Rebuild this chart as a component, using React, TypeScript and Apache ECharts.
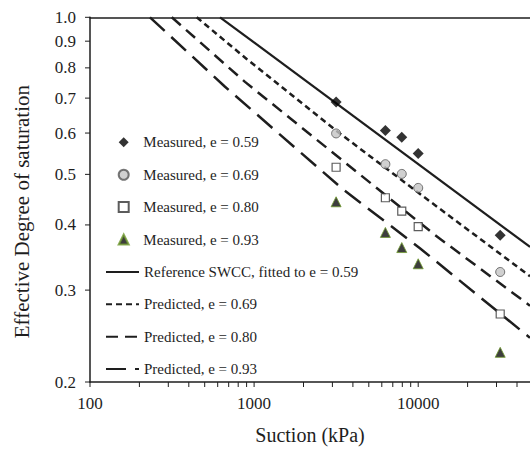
import React, { useEffect, useRef } from "react";
import * as echarts from "echarts";

// Measured data (suction in kPa, effective degree of saturation)
const suction = [3160, 6310, 7940, 10000, 31600];
const measured059 = [0.688, 0.607, 0.589, 0.548, 0.382];
const measured069 = [0.599, 0.523, 0.501, 0.471, 0.325];
const measured080 = [0.516, 0.451, 0.425, 0.397, 0.27];
const measured093 = [0.443, 0.387, 0.362, 0.337, 0.228];

// Curves
const refSuction = [620, 48000];
const refSe = [1.0, 0.363];
const pred069Suction = [447, 901, 3150, 10700, 48000];
const pred069Se = [1.0, 0.832, 0.607, 0.454, 0.319];
const pred080Suction = [315, 880, 12600, 48000];
const pred080Se = [1.0, 0.752, 0.383, 0.28];
const pred093Suction = [232, 665, 3480, 10240, 48000];
const pred093Se = [1.0, 0.736, 0.468, 0.361, 0.243];

// Axis ticks and labels
const xTickValues = [100, 200, 300, 400, 500, 600, 700, 800, 900, 1000, 2000, 3000, 4000, 5000, 6000, 7000, 8000, 9000, 10000, 20000, 30000, 40000];
const xLabelValues = [100, 1000, 10000];
const yTickValues = [0.2, 0.3, 0.4, 0.5, 0.6, 0.7, 0.8, 0.9, 1.0];

const measuredNames = ["Measured, e = 0.59", "Measured, e = 0.69", "Measured, e = 0.80", "Measured, e = 0.93"];
const curveNames = ["Reference SWCC, fitted to e = 0.59", "Predicted, e = 0.69", "Predicted, e = 0.80", "Predicted, e = 0.93"];

const FONT = "'Liberation Serif', 'Times New Roman', serif";
const INK = "#1e1e1e";

const zip = (xs: number[], ys: number[]) => xs.map((x, i) => [x, ys[i]]);

export default function App() {
  const ref = useRef<HTMLDivElement>(null);
  useEffect(() => {
    if (!ref.current) return;
    const chart = echarts.init(ref.current, null, { renderer: "svg" });
    const lineSeries = (name: string, xs: number[], ys: number[], type: any, width: number) => ({
      name,
      type: "line",
      data: zip(xs, ys),
      symbol: "none",
      z: 2,
      lineStyle: { color: INK, width, type },
      itemStyle: { color: INK },
    });
    const scatter = (name: string, ys: number[], symbol: string, size: number, style: any) => ({
      name,
      type: "scatter",
      data: zip(suction, ys),
      symbol,
      symbolSize: size,
      z: 5,
      itemStyle: style,
    });
    const legendText = { fontSize: 15, fontFamily: FONT, color: INK, lineHeight: 16 };
    chart.setOption({
      animation: false,
      grid: { left: 90, top: 17.3, right: 0, bottom: 60 },
      xAxis: [
        {
          type: "log",
          logBase: 10,
          min: 100,
          max: 48000,
          axisLine: { show: true, lineStyle: { color: INK, width: 1.5 } },
          axisTick: { show: false },
          axisLabel: { show: false },
          splitLine: { show: false },
          name: "Suction (kPa)",
          nameLocation: "middle",
          nameGap: 43,
          nameTextStyle: { fontSize: 20, fontFamily: FONT, color: INK },
        },
        {
          type: "log",
          logBase: 10,
          min: 100,
          max: 48000,
          position: "top",
          axisLine: { show: true, lineStyle: { color: INK, width: 1.5 } },
          axisTick: { show: false },
          axisLabel: { show: false },
          splitLine: { show: false },
        },
      ],
      yAxis: {
        type: "log",
        logBase: 10,
        min: 0.2,
        max: 1.0,
        axisLine: { show: true, lineStyle: { color: INK, width: 1.5 } },
        axisTick: { show: false },
        axisLabel: { show: false },
        splitLine: { show: false },
      },
      legend: [
        {
          orient: "vertical",
          left: 117.7,
          top: 134.3,
          padding: 0,
          itemWidth: 10,
          itemHeight: 10,
          itemGap: 16.4,
          textStyle: { ...legendText, padding: [0, 0, 0, 9.6] },
          data: measuredNames,
        },
        {
          orient: "vertical",
          left: 105,
          top: 263.9,
          padding: 0,
          itemWidth: 33,
          itemHeight: 10,
          itemGap: 16.4,
          itemStyle: { opacity: 0 },
          textStyle: legendText,
          data: curveNames,
        },
      ],
      series: [
        lineSeries(curveNames[0], refSuction, refSe, "solid", 2.2),
        lineSeries(curveNames[1], pred069Suction, pred069Se, [6, 4], 2.5),
        lineSeries(curveNames[2], pred080Suction, pred080Se, [12, 7], 2.5),
        lineSeries(curveNames[3], pred093Suction, pred093Se, [20, 9], 2.5),
        scatter(measuredNames[0], measured059, "diamond", 11, { color: "#000" }),
        scatter(measuredNames[1], measured069, "circle", 9, { color: "#c4c4c4", borderColor: "#555", borderWidth: 1 }),
        scatter(measuredNames[2], measured080, "rect", 8, { color: "#fff", borderColor: "#333", borderWidth: 1.2 }),
        scatter(measuredNames[3], measured093, "triangle", 10, { color: "#0d0d0d", borderColor: "#6f9a2e", borderWidth: 1 }),
      ],
    });

    // Ticks and labels placed through the axes' own scales
    const px = (v: number) => chart.convertToPixel({ xAxisIndex: 0 }, v) as number;
    const py = (v: number) => chart.convertToPixel({ yAxisIndex: 0 }, v) as number;
    const x0 = px(100);
    const y0 = py(0.2);
    const y1 = py(1.0);
    const graphic: any[] = [];
    xTickValues.forEach((v) => {
      const x = px(v);
      graphic.push({ type: "line", silent: true, shape: { x1: x, y1: y0, x2: x, y2: y0 + 5 }, style: { stroke: INK, lineWidth: 1 } });
    });
    xLabelValues.forEach((v) => {
      graphic.push({
        type: "text",
        silent: true,
        x: px(v),
        y: y0 + 13,
        style: { text: String(v), fontSize: 17, fontFamily: FONT, fill: INK, align: "center", verticalAlign: "top" },
      });
    });
    yTickValues.forEach((v) => {
      const y = py(v);
      graphic.push({ type: "line", silent: true, shape: { x1: x0 - 5, y1: y, x2: x0, y2: y }, style: { stroke: INK, lineWidth: 1 } });
      graphic.push({
        type: "text",
        silent: true,
        x: x0 - 14,
        y,
        style: { text: v.toFixed(1), fontSize: 17, fontFamily: FONT, fill: INK, align: "right", verticalAlign: "middle" },
      });
    });
    graphic.push({
      type: "text",
      silent: true,
      x: 22,
      y: (y0 + y1) / 2 + 12,
      rotation: Math.PI / 2,
      style: { text: "Effective Degree of saturation", fontSize: 21, fontFamily: FONT, fill: INK, align: "center", verticalAlign: "middle" },
    });
    chart.setOption({ graphic });

    return () => chart.dispose();
  }, []);
  return <div ref={ref} style={{ position: "fixed", left: 0, top: 0, width: 530, height: 450, background: "#fff" }} />;
}
